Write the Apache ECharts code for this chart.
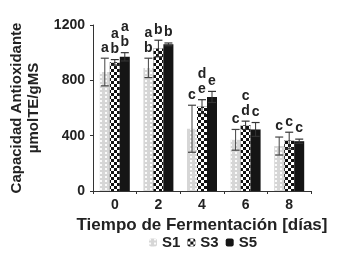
<!DOCTYPE html>
<html>
<head>
<meta charset="utf-8">
<script src="https://cdn.jsdelivr.net/npm/echarts@6/dist/echarts.min.js"></script>
<style>
  html, body { margin: 0; padding: 0; background: #fff; }
  #chart { width: 346px; height: 255px; }
</style>
</head>
<body>
<div id="chart"></div>
<script>
const days = ['0', '2', '4', '6', '8']
const seriesNames = ['S1', 'S3', 'S5']
const s1Values = [860, 890, 450, 370, 325]
const s3Values = [930, 1030, 610, 475, 365]
const s5Values = [970, 1060, 680, 445, 360]
const s1Errors = [100, 70, 170, 75, 65]
const s3Errors = [20, 60, 50, 30, 60]
const s5Errors = [30, 10, 40, 50, 15]
const s1Letters = ['a', 'a\nb', 'c', 'c', 'c']
const s3Letters = ['a\nb', 'b', 'd\ne', 'c\nd', 'c']
const s5Letters = ['a\nb', 'b', 'e', 'c', 'c']
const yTicks = [0, 400, 800, 1200]

const font = 'Liberation Sans'
const textColor = '#222'
const barWidth = 10

const values = [s1Values, s3Values, s5Values]
const errors = [s1Errors, s3Errors, s5Errors]
const letters = [s1Letters, s3Letters, s5Letters]

const decals = [
  { // S1: pale bar with white dotted stripes
    symbol: 'rect',
    symbolSize: 1,
    color: 'rgba(255,255,255,0.9)',
    dashArrayX: [2, 3],
    dashArrayY: [2, 2],
    rotation: 0
  },
  { // S3: checkerboard
    symbol: 'rect',
    symbolSize: 1,
    color: '#fff',
    dashArrayX: [[3, 3], [0, 3, 3, 0]],
    dashArrayY: [3, 0],
    rotation: 0
  },
  null
]
const barColors = ['#d6d6d6', '#111', '#151515']

const chart = echarts.init(document.getElementById('chart'))

function errorSeries (idx) {
  return {
    type: 'custom',
    name: seriesNames[idx] + '_err',
    z: 5,
    data: values[idx].map(function (v, i) { return [i, v, errors[idx][i]] }),
    renderItem: function (params, api) {
      const x = api.value(0)
      const v = api.value(1)
      const e = api.value(2)
      const top = api.coord([x, v + e])
      const bot = api.coord([x, v - e])
      const cx = top[0] + (idx - 1) * barWidth
      const half = 4
      const col = idx === 0 ? '#444' : '#333'
      return {
        type: 'group',
        children: [
          { type: 'line', shape: { x1: cx, y1: top[1], x2: cx, y2: bot[1] }, style: { stroke: col, lineWidth: 1 } },
          { type: 'line', shape: { x1: cx - half, y1: top[1], x2: cx + half, y2: top[1] }, style: { stroke: col, lineWidth: 1.2 } },
          { type: 'line', shape: { x1: cx - half, y1: bot[1], x2: cx + half, y2: bot[1] }, style: { stroke: col, lineWidth: 1.2 } },
          {
            type: 'text',
            x: cx,
            y: top[1] - 3,
            style: {
              text: letters[idx][params.dataIndex],
              fontFamily: font,
              fontWeight: 'bold',
              fontSize: 14,
              lineHeight: 15,
              fill: textColor,
              align: 'center',
              verticalAlign: 'bottom'
            }
          }
        ]
      }
    }
  }
}

const series = []
seriesNames.forEach(function (name, idx) {
  series.push({
    name: name,
    type: 'bar',
    barWidth: barWidth,
    barGap: '0%',
    itemStyle: {
      color: barColors[idx],
      decal: decals[idx] || { symbol: 'none' }
    },
    data: values[idx]
  })
})
seriesNames.forEach(function (name, idx) { series.push(errorSeries(idx)) })

chart.setOption({
  animation: false,
  aria: { enabled: false, decal: { show: true } },
  grid: { left: 83, right: 35, top: 25, bottom: 64 },
  legend: {
    data: seriesNames,
    bottom: 0,
    left: 144,
    itemWidth: 8,
    itemHeight: 8,
    itemGap: 7,
    textStyle: { fontFamily: font, fontWeight: 'bold', fontSize: 15, color: textColor, padding: [0, 0, 0, 0] }
  },
  xAxis: {
    type: 'category',
    data: days,
    name: 'Tiempo de Fermentación [días]',
    nameLocation: 'middle',
    nameGap: 25,
    nameTextStyle: { fontFamily: font, fontWeight: 'bold', fontSize: 17, color: textColor },
    axisLine: { lineStyle: { color: '#333', width: 1 } },
    axisTick: { show: true, length: 3, lineStyle: { color: '#333' } },
    axisLabel: { fontFamily: font, fontWeight: 'bold', fontSize: 14, color: textColor, margin: 7 }
  },
  yAxis: {
    type: 'value',
    min: yTicks[0],
    max: yTicks[yTicks.length - 1],
    interval: 400,
    name: 'Capacidad Antioxidante\nµmolTE/gMS',
    nameLocation: 'middle',
    nameGap: 51,
    nameTextStyle: { fontFamily: font, fontWeight: 'bold', fontSize: 15, lineHeight: 17, color: textColor },
    splitLine: { show: false },
    axisLine: { show: true, lineStyle: { color: '#333', width: 1 } },
    axisTick: { show: true, length: 3, lineStyle: { color: '#333' } },
    axisLabel: {
      fontFamily: font,
      fontWeight: 'bold',
      fontSize: 14,
      color: textColor,
      margin: 8,
      formatter: function (v) { return String(v) }
    }
  },
  series: series
})
</script>
</body>
</html>
